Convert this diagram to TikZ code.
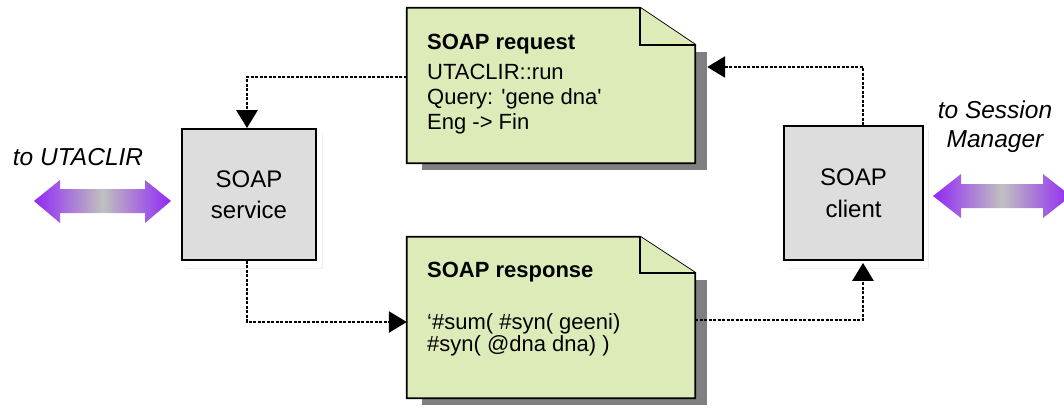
\documentclass[tikz,border=0pt]{standalone}
\usepackage{fontspec}
\setmainfont{Liberation Sans}[Ligatures=TeXOff]
\usetikzlibrary{arrows.meta,backgrounds}
\definecolor{notegreen}{RGB}{221,235,185}
\definecolor{boxgray}{RGB}{221,221,221}
\definecolor{shadowgray}{RGB}{128,128,128}
\definecolor{arrowviolet}{RGB}{145,40,245}
\definecolor{arrowmid}{RGB}{192,192,192}
\tikzset{
  procbox/.style={draw=black, line width=1.8pt, fill=boxgray, align=center,
    font=\fontsize{24}{31}\selectfont, inner sep=0pt},
  notearea/.style={inner sep=0pt, draw=none},
  noteshape/.style={draw=black, line width=1.8pt, fill=notegreen, line join=miter},
  notetext/.style={align=left, inner sep=0pt, anchor=north west},
  conn/.style={line width=2.8pt, dash pattern=on 3pt off 1.5pt,
    -{Triangle[length=18pt,width=21pt]}},
  sidelabel/.style={font=\fontsize{24.5}{29}\selectfont\itshape, align=center, inner sep=0pt},
  bigarrow/.style={draw=none, left color=arrowviolet, right color=arrowviolet, middle color=arrowmid}
}
\begin{document}
\begin{tikzpicture}[x=1pt,y=-1pt]
\useasboundingbox (0,0) rectangle (1064,410);

% process boxes
\node[procbox, minimum width=134pt, minimum height=131pt] (svc) at (249,194.5) {SOAP\\service};
\node[procbox, minimum width=139pt, minimum height=134pt, font=\fontsize{24}{32}\selectfont] (cli) at (853.5,193) {SOAP\\client};

% note areas
\node[notearea, minimum width=288pt, minimum height=155pt] (req) at (551,85.5) {};
\node[notearea, minimum width=288pt, minimum height=161pt] (rsp) at (551,317.5) {};

\begin{scope}[on background layer]
  \fill[shadowgray] ([xshift=6pt,yshift=-5pt]svc.north east) rectangle ([xshift=6pt,yshift=-7pt]svc.south east);
  \fill[shadowgray] ([xshift=5pt,yshift=-7pt]svc.south west) rectangle ([xshift=6pt,yshift=-7pt]svc.south east);
  \fill[shadowgray] ([xshift=5pt,yshift=-5pt]cli.north east) rectangle ([xshift=5pt,yshift=-7pt]cli.south east);
  \fill[shadowgray] ([xshift=5pt,yshift=-7pt]cli.south west) rectangle ([xshift=5pt,yshift=-7pt]cli.south east);
  \fill[shadowgray] ([xshift=15pt,yshift=-44pt]req.north west) rectangle ([xshift=12pt,yshift=-7pt]req.south east);
  \fill[shadowgray] ([xshift=15pt,yshift=-43pt]rsp.north west) rectangle ([xshift=12pt,yshift=-7pt]rsp.south east);
\end{scope}

% note shapes
\draw[noteshape] (req.north west) -- ([xshift=-55pt]req.north east) -- ([yshift=-37pt]req.north east)
  -- (req.south east) -- (req.south west) -- cycle;
\draw[noteshape] ([xshift=-55pt]req.north east) -- ([xshift=-55pt,yshift=-37pt]req.north east) -- ([yshift=-37pt]req.north east);
\draw[noteshape] (rsp.north west) -- ([xshift=-55pt]rsp.north east) -- ([yshift=-36pt]rsp.north east)
  -- (rsp.south east) -- (rsp.south west) -- cycle;
\draw[noteshape] ([xshift=-55pt]rsp.north east) -- ([xshift=-55pt,yshift=-36pt]rsp.north east) -- ([yshift=-36pt]rsp.north east);

% note texts
\node[notetext, font=\fontsize{22}{25}\selectfont] (reqtxt) at (427,34)
  {\textbf{SOAP request}\\[5pt]UTACLIR::run\\Query: 'gene dna'\\Eng -> Fin};
\node[notetext, font=\fontsize{22}{22}\selectfont] (rsptxt) at (427,262)
  {\textbf{SOAP response}\\[30pt]‘\#sum( \#syn( geeni)\\\#syn( @dna dna) )};

% side labels
\node[sidelabel, anchor=base] (lbl1) at (78,165) {to UTACLIR};
\node[sidelabel, anchor=north] (lbl2) at (995,101) {to Session\\Manager};

% gradient double arrows
\path[bigarrow] (34,201) -- (60,180) -- (60,189) -- (145,189) -- (145,180) -- (171,201)
  -- (145,223) -- (145,213) -- (60,213) -- (60,223) -- cycle;
\path[bigarrow] (933,196) -- (961,174) -- (961,184) -- (1043,184) -- (1043,174) -- (1071,196)
  -- (1043,218) -- (1043,208) -- (961,208) -- (961,218) -- cycle;

% connectors
\coordinate (cliT) at ([xshift=9.5pt]cli.north);
\coordinate (cliB) at ([xshift=9.5pt,yshift=-2pt]cli.south);
\coordinate (reqR) at ([xshift=12pt,yshift=18.5pt]req.east);
\draw[conn] ([yshift=8.5pt]req.west) -| ([xshift=-2pt]svc.north);
\draw[conn] (cliT) |- (reqR);
\draw[conn] ([xshift=-2pt]svc.south) |- ([yshift=-4.5pt]rsp.west);
\draw[conn] ([yshift=-2.5pt]rsp.east) -| (cliB);
\end{tikzpicture}
\end{document}
